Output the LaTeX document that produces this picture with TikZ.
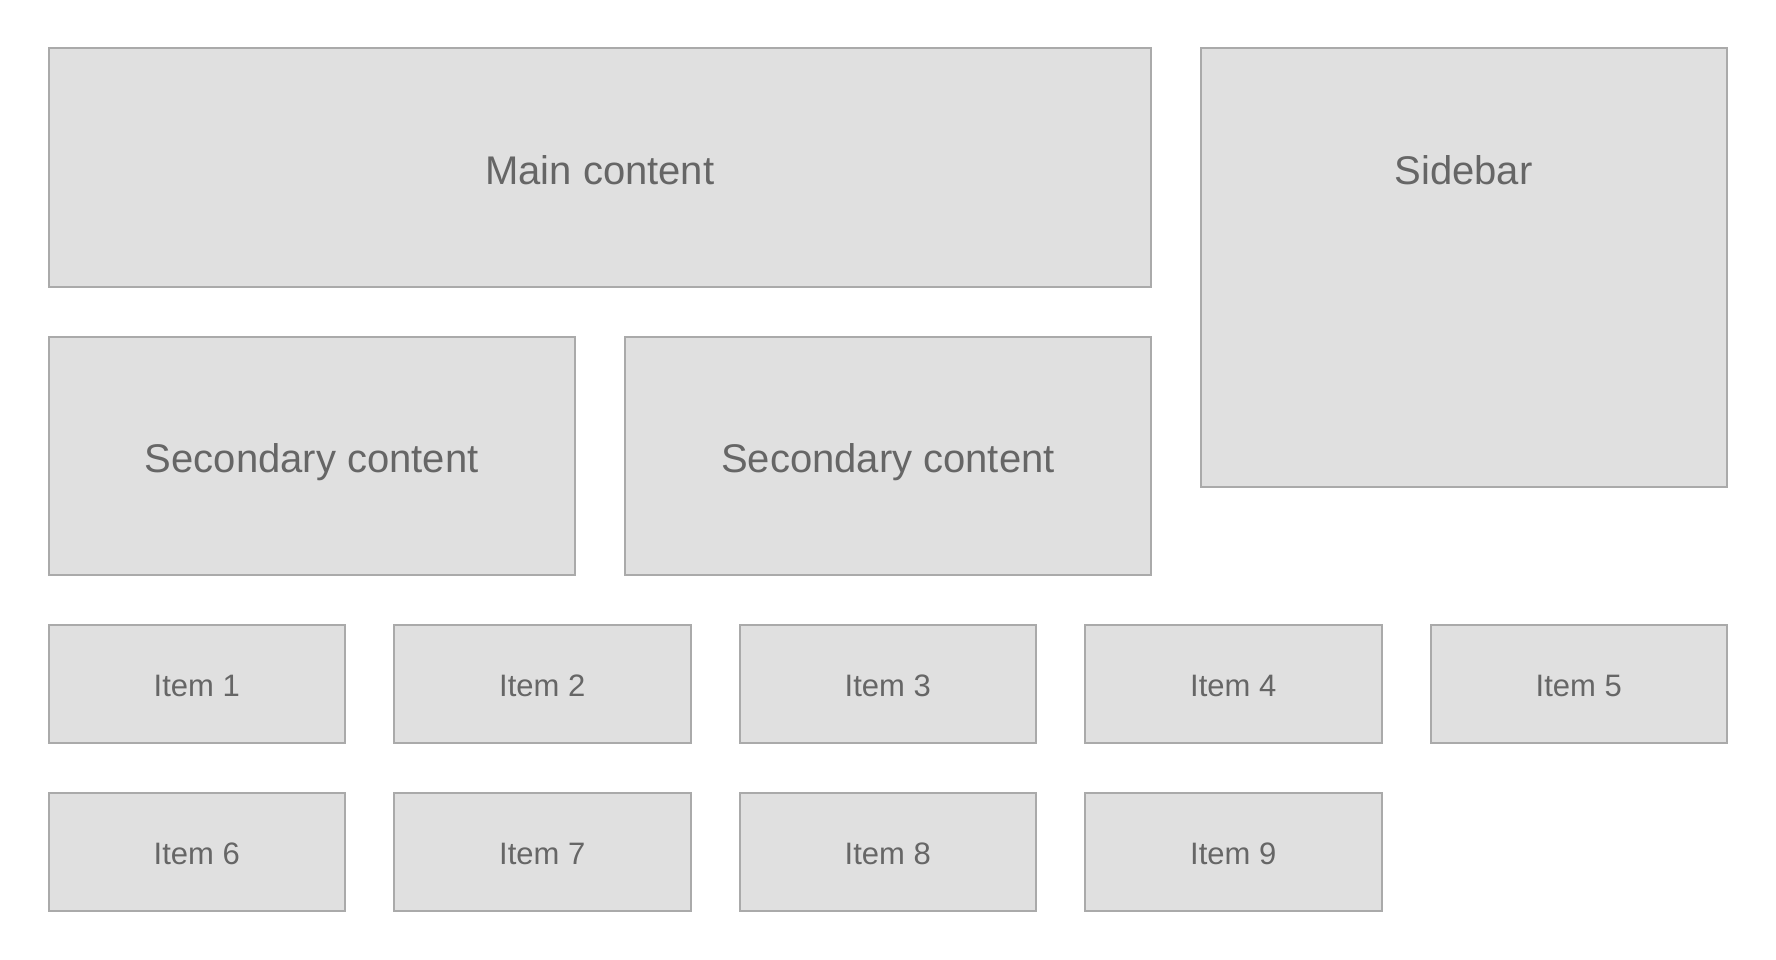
\documentclass[tikz,border=0pt]{standalone}
\usepackage{fontspec}
\setmainfont{Liberation Sans}
\definecolor{boxfill}{HTML}{E0E0E0}
\definecolor{boxline}{HTML}{AAAAAA}
\definecolor{boxtext}{HTML}{666666}
\tikzset{
  panel/.style={draw=boxline, fill=boxfill, line width=2pt},
  bigtext/.style={text=boxtext, font=\fontsize{40}{44}\selectfont},
  smalltext/.style={text=boxtext, font=\fontsize{31}{35}\selectfont},
}
\begin{document}
\begin{tikzpicture}[x=1pt,y=-1pt]
\useasboundingbox (0,0) rectangle (1776,960);
% main and sidebar
\draw[panel] (48.5,48.5) rectangle (1151,286.5);
\node[bigtext] (main) at (599.75,170) {Main content};
\draw[panel] (1200.5,48.5) rectangle (1726.5,487);
\node[bigtext] (side) at (1463.5,170) {Sidebar};
% secondary
\draw[panel] (48.5,336.5) rectangle (575,574.5);
\node[bigtext] (sec1) at (311.75,462.5) {Secondary content};
\draw[panel] (625,336.5) rectangle (1151,574.5);
\node[bigtext] (sec2) at (888,462.5) {Secondary content};
% items
\foreach \i/\xl/\yt in {1/48.5/625, 2/394/625, 3/739.5/625, 4/1085/625, 5/1430.5/625,
                         6/48.5/792.5, 7/394/792.5, 8/739.5/792.5, 9/1085/792.5}{
  \draw[panel] (\xl,\yt) rectangle ({\xl+296.5},{\yt+118});
  \node[smalltext] (item\i) at ({\xl+148.25},{\yt+61}) {Item \i};
}
\end{tikzpicture}
\end{document}
